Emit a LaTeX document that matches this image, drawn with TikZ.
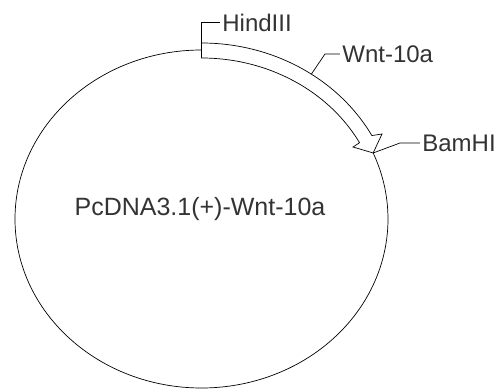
\documentclass[tikz,border=0pt]{standalone}
\usepackage{fontspec}
\setmainfont{Liberation Sans}
\begin{document}
\begin{tikzpicture}[x=1pt, y=1pt, line width=.7pt,
    site/.style={anchor=west, inner sep=2pt, text=black!80, font=\fontsize{24}{28}\selectfont}]
        \useasboundingbox (-201.5,-170) rectangle (297.5,219);
        % plasmid backbone, left open under the insert
        \coordinate (tip) at (23:186.5pt and 169pt);
        \draw (90:186.5pt and 169pt) arc [start angle=90, end angle=383, x radius=186.5pt, y radius=169pt];
        % insert arrow
        \draw (90:193.5pt and 176pt) coordinate (h0)
            arc [start angle=90, end angle=28.3, x radius=193.5pt, y radius=176pt]
            -- (180.5,85) -- (tip) -- (151.5,72)
            -- (28.3:179.5pt and 161pt)
            arc [start angle=28.3, end angle=90, x radius=179.5pt, y radius=161pt] -- cycle;
        \node [align=center, anchor=base, text=black!80, font=\fontsize{25}{30}\selectfont] (vec) at (-1.5,4) {PcDNA3.1(+)-Wnt-10a};
        \node [site] (hind) at (18.5,196.5) {HindIII};
        \node [site] (wnt) at (138.5,165) {Wnt-10a};
        \node [site] (bam) at (218.5,76) {BamHI};
        \coordinate (w0) at (55.4:193.5pt and 176pt);
        \coordinate (wk) at (123.5,165);
        \coordinate (bk) at (198.5,76);
        \draw (h0) |- (hind.west);
        \draw (w0) -- (wk) -- (wnt.west);
        \draw (tip) -- (bk) -- (bam.west);
    \end{tikzpicture}
\end{document}
